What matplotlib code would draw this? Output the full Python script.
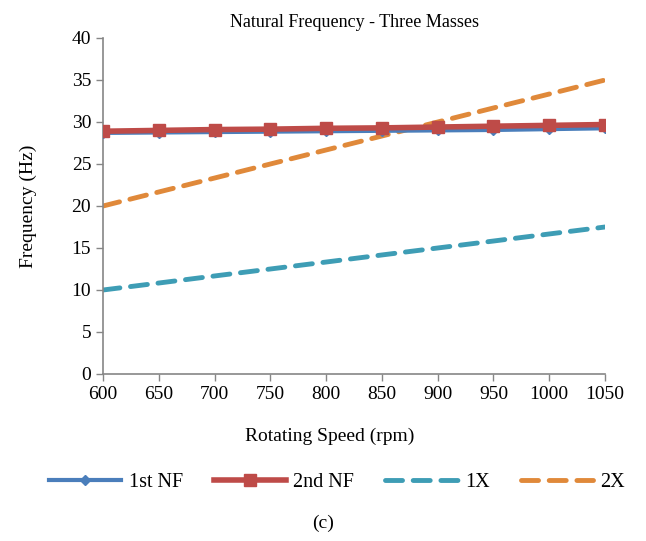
import matplotlib
matplotlib.use("Agg")
import matplotlib.pyplot as plt

plt.rcParams['font.family'] = ['Liberation Serif', 'DejaVu Serif']

speed = [600, 650, 700, 750, 800, 850, 900, 950, 1000, 1050]
nf1 = [28.7, 28.75, 28.8, 28.85, 28.9, 28.95, 29.0, 29.05, 29.15, 29.25]
nf2 = [28.9, 29.0, 29.1, 29.15, 29.25, 29.3, 29.4, 29.5, 29.6, 29.7]
x1 = [10.0, 10.83, 11.67, 12.5, 13.33, 14.17, 15.0, 15.83, 16.67, 17.5]
x2 = [20.0, 21.67, 23.33, 25.0, 26.67, 28.33, 30.0, 31.67, 33.33, 35.0]

fig = plt.figure(figsize=(6.46, 5.41), dpi=100)
W, H = 646, 541
ax = fig.add_axes([103/W, 1-374/H, (605-103)/W, (374-38)/H])

ax.plot(speed, nf1, color='#4A7EBB', lw=3, marker='D', ms=5, label='1st NF', zorder=3)
ax.plot(speed, nf2, color='#BE4B48', lw=4, marker='s', ms=9, label='2nd NF', zorder=4)
ax.plot(speed, x1, color='#3E9DB5', lw=3.5, dashes=(3.5, 2.2), dash_capstyle='round', label='1X', zorder=2)
ax.plot(speed, x2, color='#E0893A', lw=3.5, dashes=(3.5, 2.2), dash_capstyle='round', label='2X', zorder=2)

ax.set_xlim(600, 1050)
ax.set_ylim(0, 40)
ax.set_xticks(speed)
ax.set_yticks(range(0, 41, 5))
ax.tick_params(labelsize=14, direction='out', length=5, color='#868686', width=1)
for s in ['top', 'right']:
    ax.spines[s].set_visible(False)
for s in ['left', 'bottom']:
    ax.spines[s].set_color('#868686')
    ax.spines[s].set_linewidth(1.2)

ax.set_title('Natural Frequency - Three Masses', fontsize=13, pad=8)
ax.set_xlabel('Rotating Speed (rpm)', fontsize=14)
ax.xaxis.set_label_coords((330-103)/502, -(428-374)/336, transform=ax.transAxes)
ax.set_ylabel('Frequency (Hz)', fontsize=14)
ax.yaxis.set_label_coords(-(103-37)/502, 0.5, transform=ax.transAxes)

fig.legend(loc='center', bbox_to_anchor=(337/W, 1-482/H), ncol=4, frameon=False,
           fontsize=14.5, handlelength=3.6, columnspacing=1.55, handletextpad=0.35)
fig.text(323/W, 1-523/H, '(c)', ha='center', va='center', fontsize=14)

fig.savefig('out.png', dpi=100)
